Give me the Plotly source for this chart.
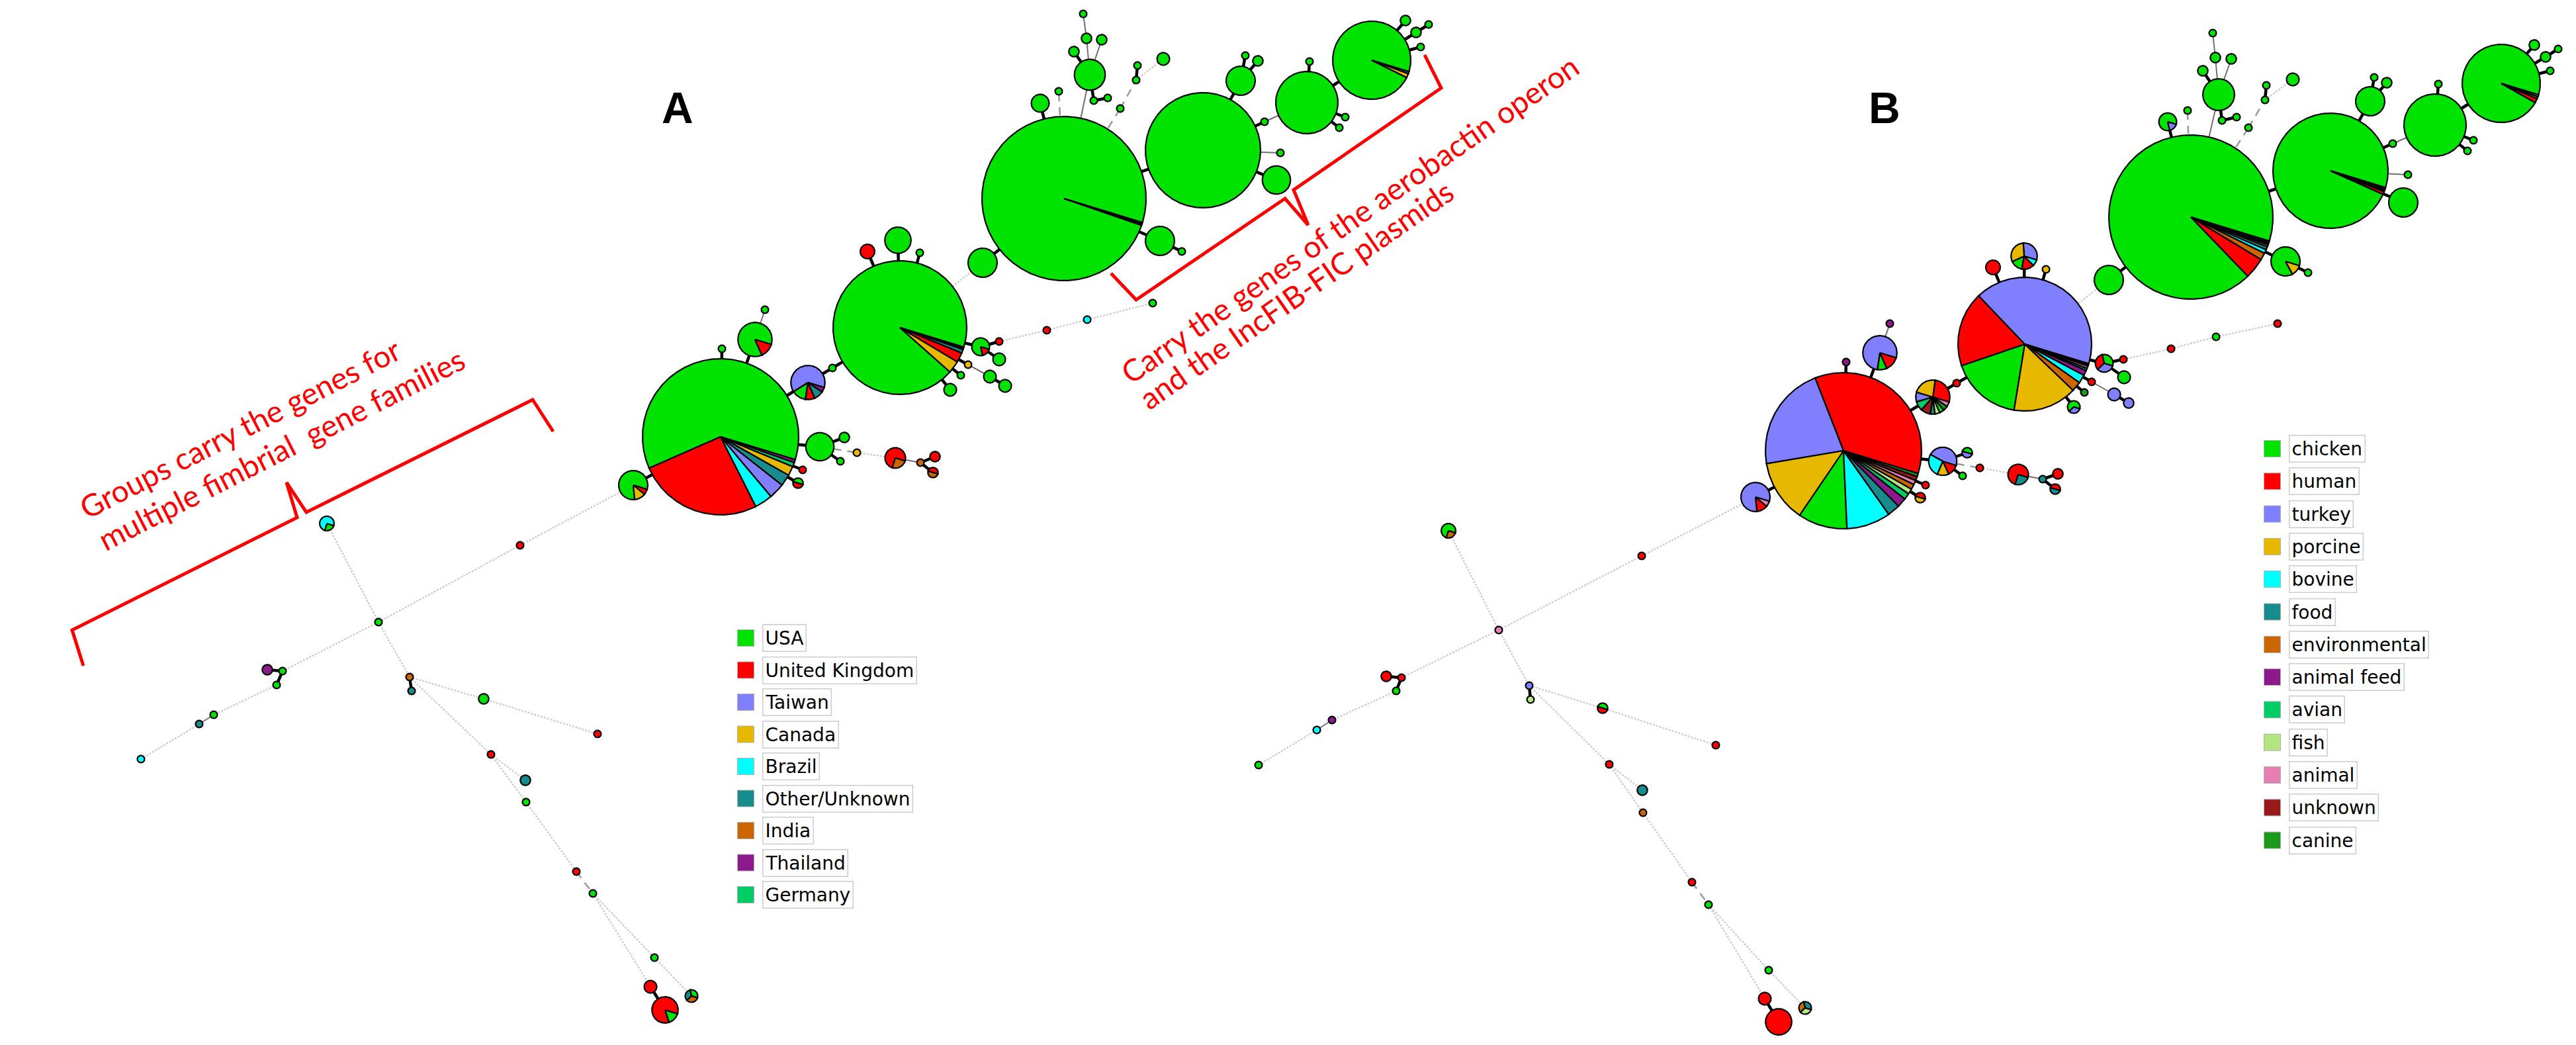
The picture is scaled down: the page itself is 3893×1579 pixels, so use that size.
import numpy as np
import plotly.graph_objects as go

W, H = 3893, 1579

# ---------------- categories ----------------
A_keys = ['US', 'UK', 'TW', 'CA', 'BR', 'OT', 'IN', 'TH', 'DE']
A_labels = ['USA', 'United Kingdom', 'Taiwan', 'Canada', 'Brazil', 'Other/Unknown', 'India', 'Thailand', 'Germany']
A_colors = ['#00E300', '#FF0000', '#8080FF', '#E6B800', '#00FFFF', '#178C8C', '#CC6600', '#8C1A8C', '#00CC66']

B_keys = ['ch', 'hu', 'tk', 'po', 'bo', 'fo', 'en', 'af', 'av', 'fi', 'an', 'un', 'cn']
B_labels = ['chicken', 'human', 'turkey', 'porcine', 'bovine', 'food', 'environmental', 'animal feed',
            'avian', 'fish', 'animal', 'unknown', 'canine']
B_colors = ['#00E300', '#FF0000', '#8080FF', '#E6B800', '#00FFFF', '#178C8C', '#CC6600', '#8C1A8C',
            '#00CC66', '#B3E680', '#E680B3', '#991A1A', '#1A991A']

# ---------------- panel A: node layout and composition (isolate counts) ----------------
A_x = [1608, 1818, 1975, 2073, 1360, 1089, 1485, 1753, 1786, 1572, 1600, 1647, 1623, 1642, 1665, 1637, 1653, 1674,
       1693, 1717, 1719, 1758, 1875, 1882, 1901, 1911, 1935, 1929, 1979, 2033, 2024, 2124, 2140, 2159, 2147,
       1311, 1357, 1390, 1482, 1510, 1510, 1463, 1496, 1519, 1452, 1436, 1221, 1258, 1091, 1141, 1156, 957,
       1239, 1276, 1270, 1213, 1206, 1295, 1353, 1391, 1413, 1410, 1582, 1643, 1742,
       786, 494, 572, 404, 427, 418, 323, 301, 213, 619, 622, 731, 903, 742, 794, 795, 871, 896, 989, 1045, 983, 1005]
A_y = [300, 227, 155, 91, 495, 660, 397, 364, 380, 156, 138, 113, 78, 58, 60, 21, 152, 148,
       164, 121, 99, 89, 122, 84, 92, 184, 231, 272, 93, 177, 193, 31, 49, 37, 71,
       380, 363, 382, 524, 516, 543, 551, 569, 583, 567, 589, 578, 556, 527, 513, 468, 733,
       675, 661, 697, 710, 730, 684, 692, 699, 690, 714, 499, 483, 458,
       824, 791, 940, 1012, 1014, 1035, 1080, 1094, 1147, 1023, 1044, 1056, 1109, 1140, 1179, 1212, 1317, 1350,
       1447, 1505, 1491, 1526]
A_comp = [
    {'US': 505, 'UK': 1, 'OT': 1, 'CA': 1}, {'US': 250}, {'US': 73}, {'US': 112, 'CA': 2, 'OT': 1},
    {'US': 314, 'CA': 10, 'UK': 8, 'OT': 3, 'TW': 1, 'BR': 1},
    {'US': 282, 'UK': 119, 'BR': 17, 'TW': 15, 'OT': 11, 'CA': 9, 'DE': 4, 'TH': 3},
    {'US': 16}, {'US': 16}, {'US': 1}, {'US': 6}, {'US': 1}, {'US': 18}, {'US': 2}, {'US': 2}, {'US': 2},
    {'US': 1}, {'US': 1}, {'US': 1}, {'US': 1}, {'US': 1}, {'US': 1}, {'US': 3}, {'US': 16}, {'US': 1},
    {'US': 2}, {'US': 1}, {'US': 1}, {'US': 15}, {'US': 1}, {'US': 1}, {'US': 1}, {'US': 2}, {'US': 2},
    {'US': 1}, {'US': 1},
    {'UK': 4}, {'US': 13}, {'US': 1}, {'US': 5, 'UK': 1}, {'UK': 1}, {'US': 3}, {'CA': 1}, {'US': 3},
    {'US': 3}, {'US': 1}, {'US': 3}, {'TW': 14, 'US': 3, 'UK': 2, 'OT': 2, 'TH': 1}, {'US': 1}, {'US': 1},
    {'US': 19, 'UK': 3}, {'US': 1}, {'US': 13, 'CA': 2, 'UK': 1},
    {'US': 15}, {'US': 2}, {'US': 1}, {'UK': 1}, {'US': 1, 'UK': 1}, {'CA': 1}, {'UK': 6, 'IN': 2},
    {'IN': 1}, {'UK': 2}, {'UK': 1, 'IN': 1}, {'UK': 1}, {'BR': 1}, {'US': 1},
    {'UK': 1}, {'BR': 3, 'US': 1}, {'US': 1}, {'TH': 2}, {'US': 1}, {'US': 1}, {'US': 1}, {'OT': 1},
    {'BR': 1}, {'IN': 1}, {'OT': 1}, {'US': 2}, {'UK': 1}, {'UK': 1}, {'OT': 2}, {'US': 1}, {'UK': 1},
    {'US': 1}, {'US': 1}, {'US': 1, 'OT': 1, 'IN': 1}, {'UK': 3}, {'UK': 11, 'US': 2}]

# ---------------- panel B ----------------
B_x = [3311, 3522, 3680, 3780, 3060, 2786, 3187, 3454, 3488, 3276, 3306, 3353, 3329, 3348, 3372, 3344, 3358, 3380,
       3398, 3423, 3425, 3465, 3582, 3588, 3607, 3616, 3639, 3632, 3685, 3738, 3729, 3830, 3847, 3866, 3854,
       3012, 3059, 3092, 3180, 3209, 3210, 3161, 3195, 3217, 3150, 3134, 2921, 2957, 2790, 2841, 2856, 2653,
       2936, 2973, 2966, 2910, 2902, 2992, 3050, 3087, 3110, 3106, 3281, 3349, 3442,
       2481, 2189, 2265, 2095, 2118, 2110, 2013, 1990, 1902, 2311, 2313, 2422, 2593, 2432, 2482, 2483, 2557, 2582,
       2673, 2728, 2667, 2688]
B_y = [328, 258, 189, 126, 520, 681, 423, 395, 412, 184, 167, 143, 107, 87, 89, 50, 182, 177,
       193, 151, 129, 120, 153, 117, 125, 217, 264, 306, 127, 212, 228, 68, 86, 74, 107,
       404, 387, 407, 549, 543, 570, 577, 596, 609, 593, 615, 600, 579, 547, 533, 489, 751,
       697, 684, 719, 733, 752, 707, 717, 724, 716, 739, 527, 509, 489,
       840, 802, 952, 1022, 1024, 1044, 1088, 1103, 1156, 1036, 1057, 1070, 1126, 1155, 1194, 1228, 1333, 1367,
       1466, 1523, 1509, 1544]
B_comp = [
    {'ch': 467, 'hu': 21, 'en': 7, 'bo': 4, 'fo': 3, 'po': 2, 'af': 1, 'an': 1, 'un': 1, 'cn': 1},
    {'ch': 245, 'hu': 2, 'po': 1, 'fo': 1, 'en': 1}, {'ch': 73}, {'ch': 111, 'hu': 2, 'po': 1, 'fo': 1},
    {'tk': 141, 'hu': 61, 'ch': 58, 'po': 52, 'en': 8, 'bo': 7, 'af': 4, 'fo': 2, 'an': 2, 'un': 1, 'cn': 1},
    {'hu': 164, 'tk': 100, 'po': 59, 'ch': 47, 'bo': 42, 'fo': 12, 'af': 9, 'av': 6, 'fi': 5, 'en': 5,
     'an': 4, 'un': 4, 'cn': 3},
    {'ch': 16}, {'ch': 14, 'po': 2}, {'ch': 1}, {'ch': 5, 'tk': 1}, {'ch': 1}, {'ch': 19}, {'ch': 2}, {'ch': 2},
    {'ch': 2}, {'ch': 1}, {'ch': 1}, {'ch': 1}, {'ch': 1}, {'ch': 1}, {'ch': 1}, {'ch': 3}, {'ch': 16},
    {'ch': 1}, {'ch': 2}, {'ch': 1}, {'ch': 1}, {'ch': 16}, {'ch': 1}, {'ch': 1}, {'ch': 1}, {'ch': 2},
    {'ch': 2}, {'ch': 1}, {'ch': 1},
    {'hu': 4}, {'tk': 4, 'po': 4, 'ch': 2, 'hu': 2, 'bo': 1}, {'po': 1}, {'ch': 2, 'hu': 2, 'tk': 2},
    {'hu': 1}, {'ch': 3}, {'hu': 1}, {'tk': 3}, {'tk': 2}, {'cn': 1}, {'ch': 2, 'tk': 1},
    {'hu': 6, 'po': 5, 'tk': 2, 'av': 2, 'un': 2, 'fo': 1, 'fi': 1, 'ch': 1, 'cn': 1, 'an': 1},
    {'hu': 1}, {'af': 1}, {'tk': 17, 'ch': 2, 'hu': 3}, {'af': 1}, {'tk': 13, 'hu': 2, 'an': 1},
    {'tk': 7, 'bo': 4, 'po': 2, 'hu': 2}, {'ch': 1, 'tk': 1}, {'ch': 1}, {'hu': 1}, {'hu': 1, 'po': 1},
    {'hu': 1}, {'hu': 6, 'fo': 2}, {'fo': 1}, {'hu': 2}, {'hu': 1, 'fo': 1}, {'hu': 1}, {'ch': 1}, {'hu': 1},
    {'hu': 1}, {'ch': 3, 'en': 1}, {'an': 1}, {'hu': 2}, {'hu': 1}, {'ch': 1}, {'af': 1}, {'bo': 1}, {'ch': 1},
    {'tk': 1}, {'fi': 1}, {'ch': 1, 'hu': 1}, {'hu': 1}, {'hu': 1}, {'fo': 2}, {'en': 1}, {'hu': 1},
    {'ch': 1}, {'ch': 1}, {'fo': 1, 'en': 1, 'fi': 1}, {'hu': 3}, {'hu': 13}]

# ---------------- tree edges (same tree in both panels): (from, to, link level) ----------------
EDGES = [(0, 1, 1), (1, 25, 1), (25, 2, 2), (2, 3, 1), (0, 6, 1), (0, 7, 1), (7, 8, 1), (0, 9, 1), (0, 10, 3),
         (0, 11, 2), (11, 12, 1), (11, 13, 2), (11, 14, 2), (13, 15, 2), (11, 16, 1), (16, 17, 1), (0, 18, 3),
         (18, 19, 3), (19, 20, 1), (19, 21, 4), (1, 22, 1), (22, 23, 1), (22, 24, 1), (1, 26, 2), (1, 27, 1),
         (2, 28, 1), (2, 29, 1), (2, 30, 1), (3, 31, 1), (3, 32, 1), (32, 33, 1), (3, 34, 1),
         (6, 4, 4), (4, 35, 1), (4, 36, 1), (4, 37, 1), (4, 38, 1), (38, 39, 1), (38, 40, 1), (4, 41, 1),
         (41, 42, 2), (42, 43, 1), (4, 44, 1), (4, 45, 1), (4, 47, 1), (47, 46, 1), (46, 5, 1),
         (5, 48, 1), (5, 49, 1), (49, 50, 2), (5, 51, 1), (5, 52, 1), (52, 53, 1), (52, 54, 1), (5, 55, 1),
         (5, 56, 1), (52, 57, 3), (57, 58, 4), (58, 59, 2), (59, 60, 1), (59, 61, 1),
         (39, 62, 4), (62, 63, 4), (63, 64, 4),
         (51, 65, 4), (65, 67, 4), (66, 67, 4), (67, 69, 4), (69, 68, 1), (69, 70, 1), (70, 71, 4), (71, 72, 2),
         (72, 73, 4), (67, 74, 4), (74, 75, 1), (74, 76, 4), (76, 77, 4), (74, 78, 4), (78, 79, 4), (78, 80, 4),
         (80, 81, 4), (81, 82, 3), (82, 83, 4), (83, 84, 4), (82, 85, 4), (85, 86, 1)]

# annotation texts
A_note1 = ['Groups carry the genes for', 'multiple fimbrial\u00a0 gene families']
A_note2 = ['Carry the genes of the aerobactin operon', 'and the IncFIB-FIC plasmids']

# ---------------- drawing helpers ----------------
R_UNIT = 5.5          # radius (px) of a node holding one isolate; area proportional to count
START = -17.0         # first slice starts here (deg), slices go counter-clockwise

EDGE_STYLE = {1: dict(color='black', width=4.5),
              2: dict(color='#707070', width=2),
              3: dict(color='#9a9a9a', width=2.5, dash='12px,9px'),
              4: dict(color='#cfcfcf', width=2.5, dash='3px,2px')}

fig = go.Figure()


def add_panel(xs, ys, comps, keys, colors):
    # edges
    for lvl, st in EDGE_STYLE.items():
        ex, ey = [], []
        for a, b, l in EDGES:
            if l == lvl:
                ex += [xs[a], xs[b], None]
                ey += [ys[a], ys[b], None]
        fig.add_trace(go.Scatter(x=ex, y=ey, mode='lines', line=st, hoverinfo='skip', showlegend=False))
    # nodes (pie slices), grouped per category
    polys = {k: ([], []) for k in keys}
    for cx, cy, comp in zip(xs, ys, comps):
        total = sum(comp.values())
        r = R_UNIT * np.sqrt(total)
        a0 = START
        for k, n in comp.items():
            sweep = 360.0 * n / total
            npts = max(4, int(sweep / 1.0) + 2)
            th = np.radians(np.linspace(a0, a0 + sweep, npts))
            px = list(cx + r * np.cos(th))
            py = list(cy - r * np.sin(th))
            if len(comp) > 1:
                px = [cx] + px + [cx]
                py = [cy] + py + [cy]
            polys[k][0].extend(px + [None])
            polys[k][1].extend(py + [None])
            a0 += sweep
    for k, c in zip(keys, colors):
        px, py = polys[k]
        if px:
            fig.add_trace(go.Scatter(x=px, y=py, mode='lines', fill='toself', fillcolor=c,
                                     line=dict(color='black', width=2.2), hoverinfo='skip',
                                     showlegend=False))


add_panel(A_x, A_y, A_comp, A_keys, A_colors)
add_panel(B_x, B_y, B_comp, B_keys, B_colors)

annotations = []


def add_legend(x_sq, y0, step, labels, colors):
    ys = [y0 + i * step for i in range(len(labels))]
    fig.add_trace(go.Scatter(x=[x_sq] * len(labels), y=ys, mode='markers',
                             marker=dict(symbol='square', size=25, color=colors,
                                         line=dict(color='#b0b0b0', width=1)),
                             hoverinfo='skip', showlegend=False))
    for lab, yy in zip(labels, ys):
        annotations.append(dict(x=x_sq + 25, y=yy, xref='x', yref='y', text=lab, showarrow=False,
                                xanchor='left', yanchor='middle',
                                font=dict(family='DejaVu Sans', size=28, color='black'),
                                bordercolor='#cccccc', borderwidth=1.5, borderpad=3, bgcolor='white'))


add_legend(1127, 964, 48.5, A_labels, A_colors)
add_legend(3434, 678, 49.3, B_labels, B_colors)

# brackets
br1_x = [126, 109, 449, 433, 463, 805, 836]
br1_y = [1006, 952, 782, 729, 774, 604, 652]
br2_x = [1679, 1717, 1942, 1977, 1955, 2178, 2153]
br2_y = [413, 453, 300, 340, 287, 133, 83]
for bx, by in ((br1_x, br1_y), (br2_x, br2_y)):
    fig.add_trace(go.Scatter(x=bx, y=by, mode='lines', line=dict(color='#FF0000', width=5),
                             hoverinfo='skip', showlegend=False))

red_font = dict(family='Lato', size=46, color='#FF0000')
annotations += [
    dict(x=362, y=647, text=A_note1[0], textangle=-27.2, font=red_font),
    dict(x=425, y=678, text=A_note1[1], textangle=-27.0, font=red_font),
    dict(x=2039, y=331, text=A_note2[0], textangle=-34.8, font=red_font),
    dict(x=1958, y=445, text=A_note2[1], textangle=-34.8, font=red_font),
    dict(x=1024, y=163, text='<b>A</b>', font=dict(family='Liberation Sans', size=66, color='black')),
    dict(x=2848, y=163, text='<b>B</b>', font=dict(family='Liberation Sans', size=66, color='black')),
]
for a in annotations:
    a.setdefault('xref', 'x')
    a.setdefault('yref', 'y')
    a.setdefault('showarrow', False)
    a.setdefault('xanchor', 'center')
    a.setdefault('yanchor', 'middle')

fig.update_layout(width=W, height=H, margin=dict(l=0, r=0, t=0, b=0),
                  paper_bgcolor='white', plot_bgcolor='white', annotations=annotations,
                  xaxis=dict(range=[0, W], visible=False, fixedrange=True),
                  yaxis=dict(range=[H, 0], visible=False, fixedrange=True),
                  font=dict(family='Liberation Sans'))

fig.write_html('out.html', config={'displayModeBar': False})
